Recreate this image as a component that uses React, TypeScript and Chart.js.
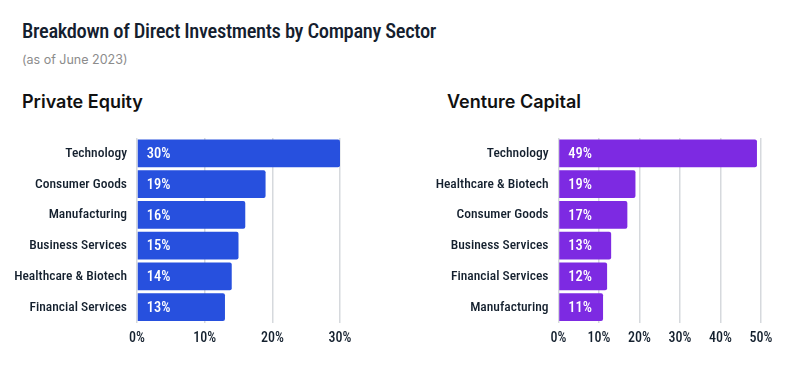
import React, { useEffect, useRef } from "react";
import { Chart, registerables } from "chart.js";

Chart.register(...registerables);

const peCategories = ["Technology", "Consumer Goods", "Manufacturing", "Business Services", "Healthcare & Biotech", "Financial Services"];
const peValues = [30, 19, 16, 15, 14, 13];
const vcCategories = ["Technology", "Healthcare & Biotech", "Consumer Goods", "Business Services", "Financial Services", "Manufacturing"];
const vcValues = [49, 19, 17, 13, 12, 11];
const peMax = 30;
const vcMax = 50;

const NARROW = '"Roboto Condensed", Roboto, sans-serif';
const TEXT = "#14202e";
const PE_COLOR = "#2750de";
const VC_COLOR = "#7d2ae2";

const valueLabelPlugin = {
  id: "valueLabels",
  afterDatasetsDraw(chart: any) {
    const ctx = chart.ctx;
    const meta = chart.getDatasetMeta(0);
    const data = chart.data.datasets[0].data;
    ctx.save();
    ctx.fillStyle = "#ffffff";
    ctx.font = `500 14.5px ${NARROW}`;
    ctx.textAlign = "left";
    ctx.textBaseline = "middle";
    meta.data.forEach((bar: any, i: number) => {
      ctx.fillText(`${data[i]}%`, bar.base + 9, bar.y + 1);
    });
    ctx.restore();
  },
};

function BarChart(props: { labels: string[]; values: number[]; max: number; color: string; yWidth: number; width: number }) {
  const ref = useRef<HTMLCanvasElement | null>(null);
  useEffect(() => {
    if (!ref.current) return;
    const chart = new Chart(ref.current, {
      type: "bar",
      data: {
        labels: props.labels,
        datasets: [
          {
            data: props.values,
            backgroundColor: props.color,
            borderRadius: 2,
            borderSkipped: "start",
            categoryPercentage: 1,
            barPercentage: 0.9,
          },
        ],
      },
      options: {
        indexAxis: "y",
        animation: false,
        responsive: false,
        maintainAspectRatio: false,
        layout: { padding: { top: 10, right: 20, left: 0, bottom: 0 } },
        plugins: { legend: { display: false }, tooltip: { enabled: false } },
        scales: {
          x: {
            min: 0,
            max: props.max,
            ticks: {
              stepSize: 10,
              padding: 8,
              color: TEXT,
              font: { family: NARROW, size: 14, weight: "500" },
              callback: (v: any) => `${v}%`,
            },
            grid: { color: "#d6d9dd", lineWidth: 1.5, drawTicks: false },
            border: { display: false },
            afterFit: (s: any) => {
              s.height = 37.5;
              s.paddingLeft = 0;
              s.paddingRight = 0;
            },
          },
          y: {
            ticks: {
              padding: 10,
              color: TEXT,
              font: { family: NARROW, size: 13.5, weight: "500" },
            },
            grid: { display: false, drawTicks: false },
            border: { display: false },
            afterFit: (s: any) => {
              s.width = props.yWidth;
              s.paddingTop = 0;
              s.paddingBottom = 0;
            },
          },
        },
      },
      plugins: [valueLabelPlugin],
    });
    let alive = true;
    if ((document as any).fonts && (document as any).fonts.load) {
      Promise.all([
        (document as any).fonts.load(`500 14px "Roboto Condensed"`),
        (document as any).fonts.load(`500 13.5px "Roboto Condensed"`),
      ]).then(() => {
        if (alive) chart.update();
      }).catch(() => {});
    }
    return () => {
      alive = false;
      chart.destroy();
    };
  }, []);
  return <canvas ref={ref} width={props.width} height={232} style={{ width: props.width, height: 232, display: "block" }} />;
}

export default function App() {
  return (
    <div style={{ position: "absolute", left: 0, top: 0, width: 803, height: 370, background: "#ffffff", overflow: "hidden" }}>
      <div style={{ position: "absolute", left: 22, top: 21, fontFamily: NARROW, fontSize: 20.5, fontWeight: 500, letterSpacing: "-0.35px", lineHeight: 1, color: TEXT, whiteSpace: "nowrap" }}>
        Breakdown of Direct Investments by Company Sector
      </div>
      <div style={{ position: "absolute", left: 22, top: 54, fontFamily: "Inter, sans-serif", fontSize: 12.5, lineHeight: 1, color: "#8c8c8c", whiteSpace: "nowrap" }}>
        (as of June 2023)
      </div>
      <div style={{ position: "absolute", left: 22, top: 92.5, fontFamily: "Inter, sans-serif", fontSize: 18, fontWeight: 600, lineHeight: 1, color: "#111111", whiteSpace: "nowrap" }}>
        Private Equity
      </div>
      <div style={{ position: "absolute", left: 447, top: 92.5, fontFamily: "Inter, sans-serif", fontSize: 18, fontWeight: 600, lineHeight: 1, color: "#111111", whiteSpace: "nowrap" }}>
        Venture Capital
      </div>
      <div style={{ position: "absolute", left: 0, top: 128 }}>
        <BarChart labels={peCategories} values={peValues} max={peMax} color={PE_COLOR} yWidth={137} width={360} />
      </div>
      <div style={{ position: "absolute", left: 420, top: 128 }}>
        <BarChart labels={vcCategories} values={vcValues} max={vcMax} color={VC_COLOR} yWidth={138.5} width={361} />
      </div>
    </div>
  );
}
